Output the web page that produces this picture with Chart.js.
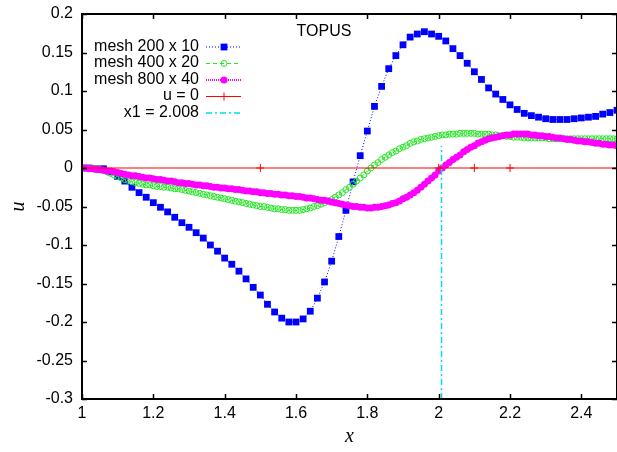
<!DOCTYPE html>
<html>
<head>
<meta charset="utf-8">
<script src="https://cdn.jsdelivr.net/npm/chart.js@4.4.1/dist/chart.umd.min.js"></script>
<style>
  html, body { margin: 0; padding: 0; background: #fff; }
  canvas { display: block; }
</style>
</head>
<body>
<canvas id="chart" width="617" height="452"></canvas>
<script>
// axis ticks
const xTicks = [1, 1.2, 1.4, 1.6, 1.8, 2, 2.2, 2.4];
const yTicks = [-0.3, -0.25, -0.2, -0.15, -0.1, -0.05, 0, 0.05, 0.1, 0.15, 0.2];

// mesh 200 x 10 : x = 1.00, 1.02, ... 2.50
const coarseStart = 1, coarseStep = 0.02;
const coarseU = [
  0, 0, -0.001, -0.001, -0.005, -0.011, -0.017, -0.025, -0.032, -0.038,
  -0.045, -0.051, -0.057, -0.064, -0.071, -0.077, -0.084, -0.091, -0.100, -0.108,
  -0.117, -0.125, -0.134, -0.144, -0.155, -0.165, -0.177, -0.187, -0.195, -0.200,
  -0.200, -0.196, -0.186, -0.169, -0.148, -0.121, -0.089, -0.055, -0.018, 0.016,
  0.048, 0.080, 0.106, 0.129, 0.146, 0.160, 0.170, 0.174, 0.177, 0.174,
  0.171, 0.165, 0.155, 0.146, 0.136, 0.125, 0.115, 0.104, 0.096, 0.089,
  0.082, 0.076, 0.071, 0.068, 0.066, 0.064, 0.063, 0.063, 0.063, 0.064,
  0.065, 0.066, 0.067, 0.070, 0.072, 0.075
];

// mesh 400 x 20 : x = 1.00, 1.01, ... 2.50
const mediumStart = 1, mediumStep = 0.01;
const mediumU = [
  0.000, 0.000, 0.000, -0.001, -0.001, -0.002, -0.003, -0.005, -0.007, -0.009,
  -0.011, -0.013, -0.015, -0.016, -0.018, -0.019, -0.020, -0.021, -0.022, -0.022,
  -0.023, -0.024, -0.024, -0.025, -0.025, -0.026, -0.027, -0.027, -0.028, -0.029,
  -0.030, -0.031, -0.032, -0.033, -0.034, -0.035, -0.036, -0.037, -0.038, -0.039,
  -0.040, -0.041, -0.042, -0.043, -0.044, -0.045, -0.046, -0.047, -0.048, -0.049,
  -0.050, -0.050, -0.051, -0.052, -0.053, -0.053, -0.054, -0.054, -0.055, -0.055,
  -0.055, -0.055, -0.054, -0.053, -0.052, -0.050, -0.049, -0.047, -0.045, -0.043,
  -0.041, -0.038, -0.035, -0.032, -0.028, -0.025, -0.021, -0.017, -0.013, -0.009,
  -0.004, 0.000, 0.004, 0.007, 0.011, 0.014, 0.017, 0.020, 0.022, 0.025,
  0.027, 0.029, 0.032, 0.034, 0.035, 0.037, 0.038, 0.039, 0.040, 0.041,
  0.042, 0.043, 0.043, 0.044, 0.044, 0.044, 0.045, 0.045, 0.045, 0.045,
  0.045, 0.044, 0.044, 0.044, 0.044, 0.043, 0.043, 0.042, 0.042, 0.041,
  0.041, 0.040, 0.040, 0.040, 0.039, 0.039, 0.039, 0.039, 0.039, 0.039,
  0.039, 0.038, 0.038, 0.038, 0.038, 0.038, 0.038, 0.038, 0.038, 0.038,
  0.038, 0.038, 0.038, 0.038, 0.038, 0.038, 0.038, 0.038, 0.038, 0.038,
  0.038
];

// mesh 800 x 40 : x = 1.00, 1.01, ... 2.50
const fineStart = 1, fineStep = 0.01;
const fineU = [
  0.000, 0.000, -0.001, -0.001, -0.002, -0.002, -0.003, -0.004, -0.004, -0.005,
  -0.006, -0.007, -0.008, -0.009, -0.010, -0.010, -0.011, -0.012, -0.013, -0.013,
  -0.014, -0.015, -0.015, -0.016, -0.017, -0.017, -0.018, -0.019, -0.019, -0.020,
  -0.020, -0.021, -0.022, -0.022, -0.023, -0.023, -0.024, -0.025, -0.025, -0.026,
  -0.026, -0.027, -0.027, -0.028, -0.028, -0.029, -0.030, -0.030, -0.031, -0.031,
  -0.032, -0.032, -0.033, -0.033, -0.034, -0.034, -0.035, -0.035, -0.036, -0.036,
  -0.037, -0.037, -0.038, -0.039, -0.039, -0.040, -0.041, -0.042, -0.042, -0.043,
  -0.044, -0.045, -0.046, -0.047, -0.048, -0.049, -0.050, -0.050, -0.051, -0.051,
  -0.052, -0.052, -0.051, -0.051, -0.050, -0.049, -0.048, -0.046, -0.045, -0.043,
  -0.040, -0.038, -0.035, -0.032, -0.029, -0.025, -0.021, -0.017, -0.013, -0.009,
  -0.004, 0.000, 0.004, 0.007, 0.011, 0.014, 0.017, 0.021, 0.024, 0.027,
  0.029, 0.032, 0.034, 0.036, 0.038, 0.039, 0.040, 0.041, 0.042, 0.043,
  0.043, 0.044, 0.044, 0.044, 0.044, 0.044, 0.043, 0.043, 0.042, 0.042,
  0.041, 0.041, 0.040, 0.039, 0.039, 0.038, 0.037, 0.037, 0.036, 0.035,
  0.035, 0.034, 0.034, 0.033, 0.032, 0.032, 0.031, 0.031, 0.030, 0.030,
  0.029
];

// u = 0 reference line
const zeroX = [1, 1.5, 2, 2.1, 2.2, 2.5];
const zeroU = [0, 0, 0, 0, 0, 0];

// x1 = 2.008 marker
const cutX = [2.008, 2.008];
const cutU = [-0.3, 0.029];

const toPoints = (start, step, us) =>
  us.map((u, i) => ({ x: +(start + i * step).toFixed(3), y: u }));
const pairPoints = (xs, us) => xs.map((x, i) => ({ x: x, y: us[i] }));

const FONT = "'Liberation Sans', Arial, sans-serif";

// gnuplot style frame with inward ticks on all sides
const framePlugin = {
  id: 'frame',
  afterDatasetsDraw(chart) {
    const { ctx, chartArea: a, scales } = chart;
    ctx.save();
    ctx.strokeStyle = '#000';
    ctx.lineWidth = 2;
    ctx.strokeRect(a.left, a.top, a.right - a.left, a.bottom - a.top);
    ctx.lineWidth = 1.5;
    ctx.beginPath();
    xTicks.forEach(v => {
      const px = Math.round(scales.x.getPixelForValue(v)) + 0.5;
      ctx.moveTo(px, a.bottom); ctx.lineTo(px, a.bottom - 5);
      ctx.moveTo(px, a.top); ctx.lineTo(px, a.top + 5);
    });
    yTicks.forEach(v => {
      const py = Math.round(scales.y.getPixelForValue(v)) + 0.5;
      ctx.moveTo(a.left, py); ctx.lineTo(a.left + 5, py);
      ctx.moveTo(a.right, py); ctx.lineTo(a.right - 5, py);
    });
    ctx.stroke();
    ctx.restore();
  }
};

// key drawn like gnuplot: text right aligned, sample on the right
const keyPlugin = {
  id: 'key',
  afterDraw(chart) {
    const { ctx } = chart;
    ctx.save();
    ctx.font = '16px ' + FONT;
    ctx.textAlign = 'center';
    ctx.textBaseline = 'middle';
    ctx.fillStyle = '#000';
    ctx.fillText('TOPUS', 324, 32);
    ctx.textAlign = 'right';
    chart.data.datasets.forEach((ds, i) => {
      const y = 46.5 + i * 16.5;
      ctx.fillStyle = '#000';
      ctx.fillText(ds.label, 199, y);
      ctx.strokeStyle = ds.borderColor;
      ctx.lineWidth = ds.keyWidth || ds.borderWidth;
      ctx.setLineDash(ds.borderDash || []);
      ctx.beginPath();
      ctx.moveTo(206, y + 0.5);
      ctx.lineTo(241, y + 0.5);
      ctx.stroke();
      ctx.setLineDash([]);
      if (ds.pointRadius > 0) {
        ctx.fillStyle = ds.pointBackgroundColor;
        ctx.strokeStyle = ds.pointBorderColor;
        ctx.lineWidth = ds.pointBorderWidth;
        Chart.helpers.drawPoint(ctx, {
          pointStyle: ds.pointStyle, radius: ds.pointRadius,
          rotation: 0, borderWidth: ds.pointBorderWidth
        }, 224, y + 0.5);
      }
    });
    ctx.restore();
  }
};

new Chart(document.getElementById('chart'), {
  type: 'scatter',
  data: {
    datasets: [
      {
        label: 'mesh 200 x 10',
        data: toPoints(coarseStart, coarseStep, coarseU),
        showLine: true,
        borderColor: '#0000ff',
        borderWidth: 1,
        borderDash: [1, 2],
        pointStyle: 'rect',
        pointRadius: 4.8,
        pointBackgroundColor: '#0000ff',
        pointBorderColor: '#0000ff',
        pointBorderWidth: 0,
        order: 5
      },
      {
        label: 'mesh 400 x 20',
        data: toPoints(mediumStart, mediumStep, mediumU),
        showLine: true,
        borderColor: '#22e622',
        borderWidth: 1,
        borderDash: [4, 3],
        pointStyle: 'circle',
        pointRadius: 3,
        pointBackgroundColor: 'rgba(0,0,0,0)',
        pointBorderColor: '#22e622',
        pointBorderWidth: 1,
        order: 4
      },
      {
        label: 'mesh 800 x 40',
        data: toPoints(fineStart, fineStep, fineU),
        showLine: true,
        borderColor: '#ff00ff',
        borderWidth: 1,
        keyWidth: 2,
        borderDash: [1, 1],
        pointStyle: 'circle',
        pointRadius: 3.5,
        pointBackgroundColor: '#ff00ff',
        pointBorderColor: '#ff00ff',
        pointBorderWidth: 0,
        order: 3
      },
      {
        label: 'u = 0',
        data: pairPoints(zeroX, zeroU),
        showLine: true,
        borderColor: '#ff0000',
        borderWidth: 1.2,
        pointStyle: 'cross',
        pointRadius: 4,
        pointBackgroundColor: '#ff0000',
        pointBorderColor: '#ff0000',
        pointBorderWidth: 1,
        order: 2
      },
      {
        label: 'x1 = 2.008',
        data: pairPoints(cutX, cutU),
        showLine: true,
        borderColor: '#00dded',
        borderWidth: 1.5,
        borderDash: [6, 3, 2, 3],
        pointRadius: 0,
        order: 1
      }
    ]
  },
  options: {
    responsive: false,
    animation: false,
    devicePixelRatio: 1,
    layout: { autoPadding: false, padding: { top: 14, right: 0, left: 0, bottom: 0 } },
    plugins: {
      legend: { display: false },
      tooltip: { enabled: false }
    },
    scales: {
      x: {
        type: 'linear',
        min: 1,
        max: 2.5,
        afterBuildTicks: scale => { scale.ticks = xTicks.map(v => ({ value: v })); },
        afterFit: scale => {
          scale.height = 53;
          scale.paddingLeft = 0;
          scale.paddingRight = 0;
        },
        grid: { display: false, drawTicks: false },
        border: { display: false },
        ticks: {
          autoSkip: false, maxRotation: 0, padding: 5, color: '#000',
          font: { family: FONT, size: 16 },
          callback: v => String(v)
        },
        title: {
          display: true, text: 'x', color: '#000',
          font: { family: "'Liberation Serif', 'DejaVu Serif', serif", size: 20, style: 'italic' },
          padding: { top: 0, bottom: 3 }
        }
      },
      y: {
        type: 'linear',
        min: -0.3,
        max: 0.2,
        afterBuildTicks: scale => { scale.ticks = yTicks.map(v => ({ value: v })); },
        afterFit: scale => {
          scale.width = 82;
          scale.paddingTop = 0;
          scale.paddingBottom = 0;
        },
        grid: { display: false, drawTicks: false },
        border: { display: false },
        ticks: {
          autoSkip: false, padding: 9, color: '#000',
          font: { family: FONT, size: 16 },
          callback: v => String(v)
        },
        title: {
          display: true, text: 'u', color: '#000',
          font: { family: "'Liberation Serif', 'DejaVu Serif', serif", size: 20, style: 'italic' },
          padding: { top: 7, bottom: 0 }
        }
      }
    }
  },
  plugins: [framePlugin, keyPlugin]
});
</script>
</body>
</html>
